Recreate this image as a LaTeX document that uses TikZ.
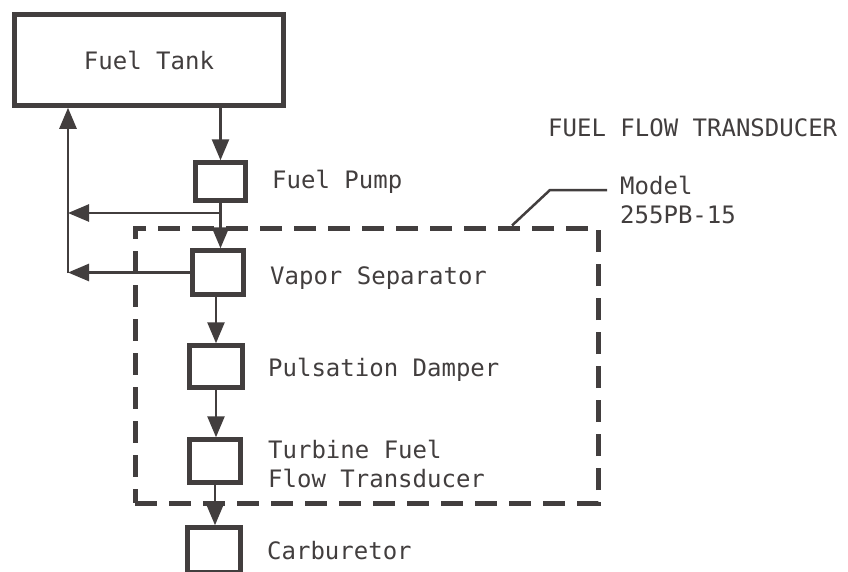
\documentclass[tikz,border=0pt]{standalone}
\usepackage{fontspec}
\setmonofont{DejaVu Sans Mono}
\usetikzlibrary{arrows.meta,positioning}
\definecolor{ink}{RGB}{66,62,62}

\begin{document}
\begin{tikzpicture}[x=1pt, y=-1pt,
	box/.style={draw=ink, line width=4.5pt, inner sep=0pt, font=\ttfamily\fontsize{24}{29}\selectfont, text=ink},
	lbl/.style={anchor=mid west, inner sep=0pt, text=ink, align=left, font=\ttfamily\fontsize{24}{29}\selectfont},
	flow/.style={draw=ink, line width=2.6pt, -{Triangle[length=21pt,width=17pt]}},
	]
	\useasboundingbox[fill=white] (0,0) rectangle (848,571);
	
	% --- components ---
	\node[box, minimum width=269pt, minimum height=91pt] (tank) at (149,60) {Fuel Tank};
	\node[box, minimum width=50pt, minimum height=38pt] (pump) at (220.5,181.5) {};
	\node[box, minimum width=51pt, minimum height=44pt] (vapor) at (218,272.5) {};
	\node[box, minimum width=53pt, minimum height=42pt] (damper) at (216,366.5) {};
	\node[box, minimum width=51pt, minimum height=43pt] (turbine) at (215,461) {};
	\node[box, minimum width=53pt, minimum height=45pt] (carb) at (214,550) {};
	
	% --- labels ---
	\node[lbl] (pumptxt) at (272,186) {Fuel Pump};
	\node[lbl] (vaportxt) at (270,282) {Vapor Separator};
	\node[lbl] (dampertxt) at (268,374) {Pulsation Damper};
	\node[lbl, anchor=west] (turbinetxt) at (268,464) {Turbine Fuel\\Flow Transducer};
	\node[lbl] (carbtxt) at (267,557) {Carburetor};
	\node[lbl] (title) at (548,134) {FUEL FLOW TRANSDUCER};
	\node[lbl, anchor=west] (model) at (620,200) {Model\\255PB-15};
	
	% --- transducer outline ---
	\node[draw=ink, line width=5pt, dash pattern=on 22pt off 12pt, minimum width=463pt, minimum height=275pt, inner sep=0pt] (ffbox) at (366.5,365.5) {};
	\coordinate (knee) at (550,190);
	\draw[ink, line width=2.5pt] ([xshift=145.5pt]ffbox.north) -- (knee) -- (607,190);
	
	% --- main flow ---
	\draw[flow] (pump.north |- tank.south) -- (pump.north);
	\draw[flow] (pump.south) -- (pump.south |- vapor.north);
	\draw[flow] (vapor.south -| damper.north) -- (damper.north);
	\draw[flow] (damper.south) -- (damper.south |- turbine.north);
	\draw[flow] (turbine.south) -- (turbine.south |- carb.north);
	
	% --- return lines ---
	\coordinate (tee) at (220.5,213);
	\coordinate (ret) at (68,273);
	\draw[flow] (tee) -- (tee -| ret);
	\draw[flow] (vapor.west) -- (vapor.west -| ret);
	\draw[flow] (ret) -- (ret |- tank.south);
	
\end{tikzpicture}
\end{document}
